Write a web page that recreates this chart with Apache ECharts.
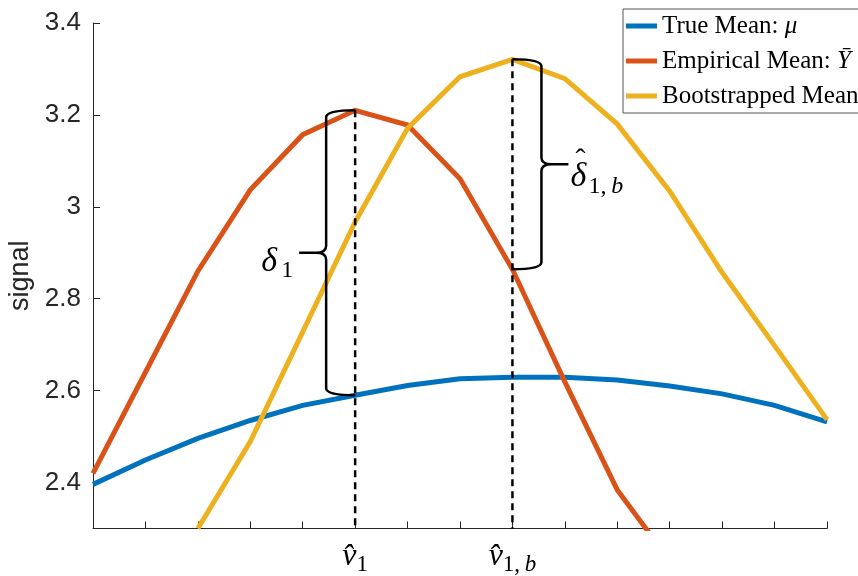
<!DOCTYPE html>
<html><head><meta charset="utf-8">
<script src="https://cdn.jsdelivr.net/npm/echarts@6/dist/echarts.min.js"></script>
<style>html,body{margin:0;padding:0;background:#fff}#c{width:858px;height:576px}</style>
</head><body><div id="c"></div>
<script>
// ---- data ----
const xIndex = [0, 1, 2, 3, 4, 5, 6, 7, 8, 9, 10, 11, 12, 13, 14];
const trueMean = [2.396, 2.449, 2.496, 2.535, 2.568, 2.590, 2.611, 2.626, 2.629, 2.629, 2.623, 2.610, 2.593, 2.568, 2.532];
const empiricalMean = [2.42, 2.64, 2.86, 3.037, 3.157, 3.210, 3.178, 3.061, 2.864, 2.619, 2.384, 2.23, null, null, null];
const bootstrapMean = [null, null, 2.30, 2.489, 2.728, 2.967, 3.171, 3.283, 3.321, 3.279, 3.180, 3.034, 2.857, 2.698, 2.537];
const yTicks = [2.4, 2.6, 2.8, 3.0, 3.2, 3.4];
const yTickLabels = ['2.4', '2.6', '2.8', '3', '3.2', '3.4'];
const xLabelValues = [5, 8];
const xLabelSubs = ['{s|1}', '{s|1,\u2009}{si|b}'];
const seriesNames = ['True Mean', 'Empirical Mean', 'Bootstrapped Mean'];
const seriesMath = ['μ', 'Ȳ', ''];
const v1 = 5, v1b = 8;
const braceLabels = [['δ', false, '{n|1}'], ['δ', true, '{n|1,\u2009}{i|b}']];

// ---- build ----
const pairs = arr => xIndex.map((x, i) => [x, arr[i]]);
const colors = ['#0072BD', '#D95319', '#EDB120'];
const yMin = 2.3, yMax = 3.4;
const serif = '"Liberation Serif", "DejaVu Serif", serif';
const sans = '"Liberation Sans", Arial, Helvetica, sans-serif';

const chart = echarts.init(document.getElementById('c'), null, {renderer: 'canvas'});

const lineSeries = [trueMean, empiricalMean, bootstrapMean].map((arr, i) => ({
  name: seriesNames[i], type: 'line', data: pairs(arr), symbol: 'none',
  connectNulls: false, clip: true,
  lineStyle: {color: colors[i], width: 5, join: 'miter'}, itemStyle: {color: colors[i]}, z: 2
}));

const dashSeries = [[v1, empiricalMean[v1]], [v1b, bootstrapMean[v1b]]].map(p => ({
  type: 'line', data: [p, [p[0], yMin]], symbol: 'none', silent: true,
  lineStyle: {color: '#000', width: 2.5, type: [7, 5]}, z: 3
}));

const braceData = [
  [v1, empiricalMean[v1], trueMean[v1], -1, 0],
  [v1b, bootstrapMean[v1b], empiricalMean[v1b], 1, 1]
];

const subRich = {
  n: {fontFamily: serif, fontSize: 24, color: '#000'},
  i: {fontFamily: serif, fontStyle: 'italic', fontSize: 24, color: '#000'}
};

const braceSeries = {
  type: 'custom', data: braceData, clip: false, z: 4, silent: true,
  renderItem: function (params, api) {
    const x = api.value(0), yt = api.value(1), yb = api.value(2), dir = api.value(3), li = api.value(4);
    const p0 = api.coord([x, yt]), p1 = api.coord([x, yb]);
    const xe = p0[0], y0 = p0[1], y1 = p1[1];
    const xc = xe + dir * 29, xt = xe + dir * 56, ym = (y0 + y1) / 2, r = 7;
    const xm = xc + dir * r * 1.4;
    const d = `M${xe},${y0} Q${xc},${y0} ${xc},${y0 + r} L${xc},${ym - r} Q${xc},${ym} ${xm},${ym} L${xt},${ym} ` +
              `M${xm},${ym} Q${xc},${ym} ${xc},${ym + r} L${xc},${y1 - r} Q${xc},${y1} ${xe},${y1}`;
    const lab = braceLabels[li];
    const mainX = dir < 0 ? xt - 38 : xt + 2;
    const subX = dir < 0 ? xt - 18 : xt + 20;
    const mainY = dir < 0 ? ym + 9 : ym + 13;
    const subY = dir < 0 ? ym + 18 : ym + 22;
    const children = [
      {type: 'path', shape: {pathData: d}, style: {stroke: '#000', lineWidth: 2.5, fill: null}},
      {type: 'text', x: mainX, y: mainY, style: {text: lab[0], fontFamily: serif, fontStyle: 'italic', fontSize: 34, fill: '#000', align: 'left', verticalAlign: 'middle'}},
      {type: 'text', x: subX, y: subY, style: {text: lab[2], rich: subRich, fontFamily: serif, fontSize: 24, fill: '#000', align: 'left', verticalAlign: 'middle'}}
    ];
    if (lab[1]) {
      children.push({type: 'text', x: mainX + 10, y: mainY - 16, style: {text: 'ˆ', fontFamily: serif, fontSize: 30, fill: '#000', align: 'center', verticalAlign: 'middle'}});
    }
    return {type: 'group', children: children};
  }
};

chart.setOption({
  animation: false,
  backgroundColor: '#fff',
  grid: {left: 93, right: 31, top: 23, bottom: 47.5, containLabel: false, outerBoundsMode: 'none'},
  legend: {
    data: seriesNames, orient: 'vertical', left: 623, top: 9,
    padding: [2, 6, 2, 3], itemGap: 5, itemWidth: 31, itemHeight: 5, icon: 'rect',
    borderColor: '#555', borderWidth: 1, backgroundColor: '#fff',
    formatter: name => {
      const m = seriesMath[seriesNames.indexOf(name)];
      return m ? name + ': {m|' + m + '}' : name;
    },
    textStyle: {fontFamily: serif, fontSize: 25, color: '#000', lineHeight: 30,
      rich: {m: {fontFamily: serif, fontStyle: 'italic', fontSize: 25, color: '#000', lineHeight: 30}}}
  },
  xAxis: {
    type: 'value', min: 0, max: 14, interval: 1,
    axisLine: {show: true, lineStyle: {color: '#262626', width: 1}},
    axisTick: {show: true, inside: true, length: 7, lineStyle: {color: '#262626', width: 1}},
    splitLine: {show: false},
    axisLabel: {
      customValues: xLabelValues, margin: 12,
      formatter: v => '{v|v̂}' + xLabelSubs[xLabelValues.indexOf(v)],
      rich: {
        v: {fontFamily: serif, fontStyle: 'italic', fontSize: 32, color: '#000', lineHeight: 34, verticalAlign: 'top'},
        s: {fontFamily: serif, fontSize: 23, color: '#000', lineHeight: 23, padding: [13, 0, 0, 0], verticalAlign: 'top'},
        si: {fontFamily: serif, fontStyle: 'italic', fontSize: 23, color: '#000', lineHeight: 23, padding: [13, 0, 0, 0], verticalAlign: 'top'}
      }
    }
  },
  yAxis: {
    type: 'value', min: yMin, max: yMax,
    name: 'signal', nameLocation: 'middle', nameGap: 54, nameRotate: 90,
    nameTextStyle: {fontFamily: sans, fontSize: 27, color: '#262626'},
    axisLine: {show: true, lineStyle: {color: '#262626', width: 1}},
    axisTick: {show: true, inside: true, length: 7, customValues: yTicks, lineStyle: {color: '#262626', width: 1}},
    splitLine: {show: false},
    axisLabel: {customValues: yTicks, margin: 12, fontFamily: sans, fontSize: 26, color: '#262626',
      formatter: v => yTickLabels[yTicks.findIndex(t => Math.abs(t - v) < 1e-9)]}
  },
  series: [...lineSeries, ...dashSeries, braceSeries]
});
</script></body></html>
